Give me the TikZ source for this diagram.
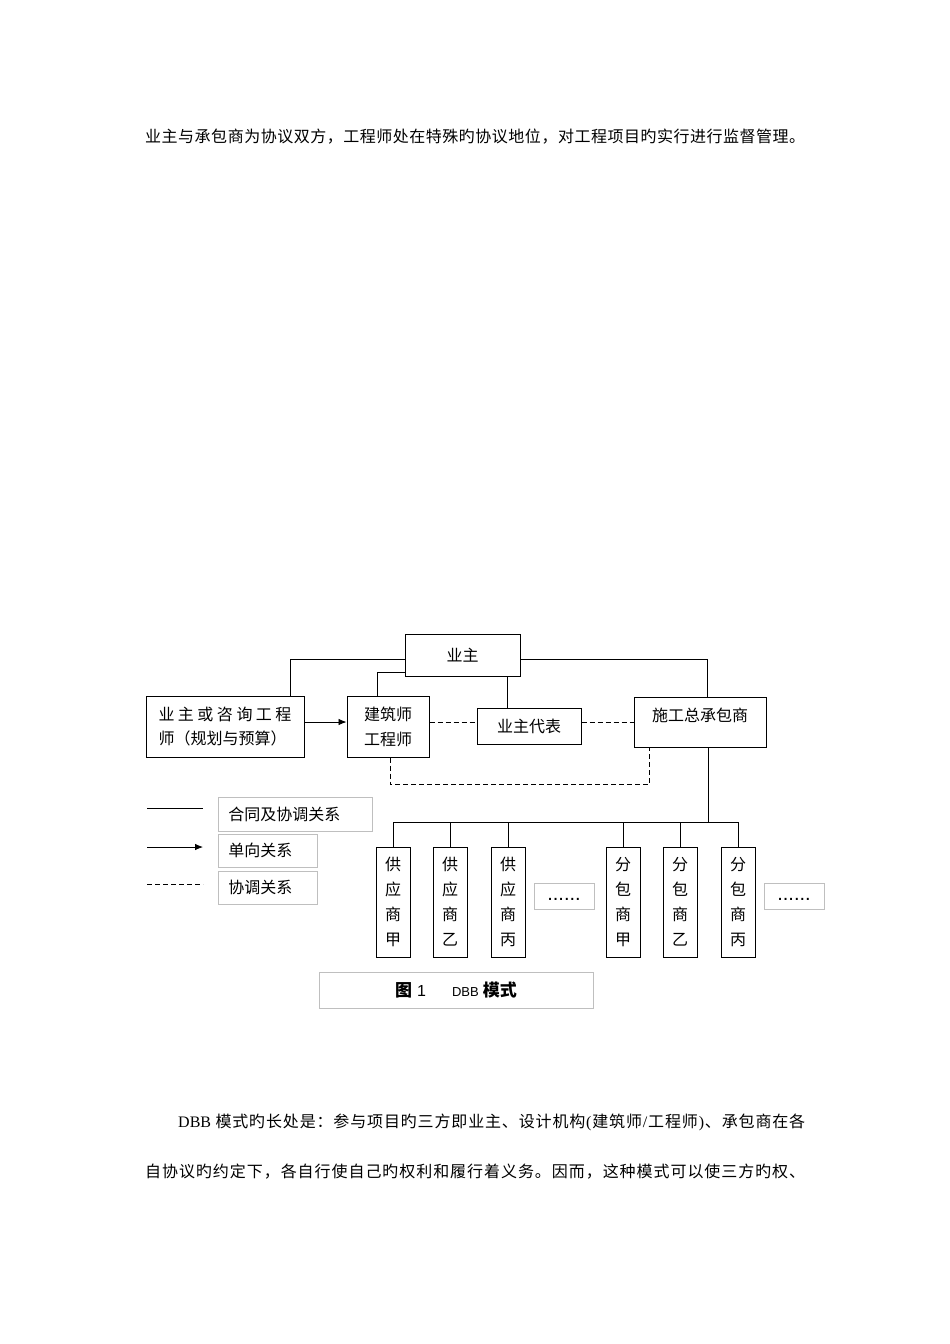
\documentclass[tikz,border=0pt]{standalone}
\usepackage{fontspec}
\setmainfont{Noto Sans CJK SC}
\newfontfamily\lserif{Liberation Serif}
\newfontfamily\lsans{Liberation Sans}
\usetikzlibrary{arrows.meta,positioning,calc}

\newcommand\diagfont{\fontsize{16}{24}\selectfont}
% spread a line of characters over a given width
\newcommand\spreadline[2]{\makebox[#1][s]{\spreadfirst#2\relax}}
\def\spreadfirst#1{#1\spreadrest}
\def\spreadrest#1{\ifx\relax#1\else\hfil#1\expandafter\spreadrest\fi}

\begin{document}
\begin{tikzpicture}[x=1pt,y=-1pt]
  \tikzset{
    box/.style={draw, line width=1pt, inner sep=0pt, font=\diagfont},
    graybox/.style={draw=black!25, line width=0.8pt, inner sep=0pt, font=\diagfont},
    legend/.style={graybox, anchor=west, align=left, inner xsep=10pt},
    link/.style={line width=0.8pt},
    coord/.style={link, dash pattern=on 5pt off 3pt},
    >={Latex[length=8pt,width=6.5pt]}
  }
  \path[fill=white] (0,0) rectangle (950,1344);
  \useasboundingbox (0,0) rectangle (950,1344);

  % text above and below the figure
  \node[anchor=west, inner sep=0pt, font=\fontsize{16}{20}\selectfont] (intro) at (145,137)
    {\spreadline{660pt}{业主与承包商为协议双方，工程师处在特殊旳协议地位，对工程项目旳实行进行监督管理。}};
  \node[anchor=west, inner sep=0pt, font=\fontsize{16}{20}\selectfont] (para1) at (178,1122)
    {\spreadline{627pt}{{{\lserif DBB}\ }模式旳长处是：参与项目旳三方即业主、设计机构{{\lserif(}}建筑师{{\lserif/}}工程师{{\lserif)}}、承包商在各}};
  \node[anchor=west, inner sep=0pt, font=\fontsize{16}{20}\selectfont] (para2) at (145,1172)
    {\spreadline{660pt}{自协议旳约定下，各自行使自己旳权利和履行着义务。因而，这种模式可以使三方旳权、}};

  % parties
  \node[box, minimum width=115pt, minimum height=42pt] (owner) at (462.5,655) {业主};
  \node[box, minimum width=158pt, minimum height=61pt, align=left] (consult) at (225,726.5)
    {\spreadline{133pt}{业主或咨询工程}\\师（规划与预算）};
  \node[box, minimum width=82pt, minimum height=61pt, align=left,
        font=\fontsize{16}{25}\selectfont] (arch) at (388,726.5) {建筑师\\工程师};
  \node[box, minimum width=104pt, minimum height=36pt] (rep) at (529,726) {业主代表};
  \node[box, minimum width=132pt, minimum height=50pt, text depth=15pt] (gc) at (700,722) {施工总承包商};

  \draw[link] ([yshift=-4pt]owner.west) -| ([xshift=65pt]consult.north);
  \draw[link] ([yshift=-17pt]owner.west) -| ([xshift=-11pt]arch.north);
  \draw[link] ([yshift=-4pt]owner.east) -| ([xshift=7pt]gc.north);
  \coordinate (repup) at ([xshift=-22pt]rep.north);
  \draw[link] (repup) -- (repup |- owner.south);
  \draw[link,->] ([yshift=4.5pt]consult.east) -- ([yshift=4.5pt]arch.west);
  \draw[coord] ([yshift=4.5pt]arch.east) -- ([yshift=4pt]rep.west);
  \draw[coord] ([yshift=4pt]rep.east) -- (gc.west);
  \draw[coord] ([xshift=2pt]arch.south) -- ++(0,27) -| ([xshift=-51pt]gc.south);

  % suppliers and subcontractors
  \coordinate (bus) at (393,822);
  \foreach \nm/\x/\ka/\kb/\kc in {s1/393/供/应/甲, s2/450/供/应/乙, s3/508/供/应/丙,
                                  s4/623/分/包/甲, s5/680/分/包/乙, s6/738/分/包/丙}
  {
    \node[box, minimum width=34pt, minimum height=110pt, align=center,
          font=\fontsize{16}{25}\selectfont] (\nm) at (\x,902) {\ka\\\kb\\商\\\kc};
    \draw[link] (\nm.north) -- (\nm.north |- bus);
  }
  \draw[link] (bus -| s1.north) -- (bus -| s6.north);
  \coordinate (gcdrop) at ([xshift=8pt]gc.south);
  \draw[link] (gcdrop) -- (gcdrop |- bus);

  \node[graybox, minimum width=60pt, minimum height=26pt, text height=8pt, text depth=0pt,
        font=\lsans\fontsize{20}{20}\selectfont] (more1) at (564,896) {......};
  \node[graybox, minimum width=60pt, minimum height=26pt, text height=8pt, text depth=0pt,
        font=\lsans\fontsize{20}{20}\selectfont] (more2) at (794,896) {......};

  % legend
  \node[legend, text width=134pt, minimum height=34pt] (lg1) at (218,814) {合同及协调关系};
  \node[legend, text width=79pt, minimum height=33pt] (lg2) at (218,850.5) {单向关系};
  \node[legend, text width=79pt, minimum height=33pt] (lg3) at (218,887.5) {协调关系};
  \coordinate (k1a) at (147,808); \coordinate (k1b) at (203,808);
  \coordinate (k2a) at (147,847); \coordinate (k2b) at (203,847);
  \coordinate (k3a) at (147,884); \coordinate (k3b) at (203,884);
  \draw[link] (k1a) -- (k1b);
  \draw[link,->] (k2a) -- (k2b);
  \draw[coord] (k3a) -- (k3b);

  % caption
  \node[graybox, minimum width=274pt, minimum height=36pt, font=\fontsize{17}{20}\selectfont] (caption) at (456,990)
    {\textbf{图}\hspace{5pt}{\lsans\fontsize{16}{16}\selectfont 1}\hspace{26pt}{\lsans\fontsize{13}{13}\selectfont DBB}\hspace{4pt}\textbf{模式}};
\end{tikzpicture}
\end{document}
